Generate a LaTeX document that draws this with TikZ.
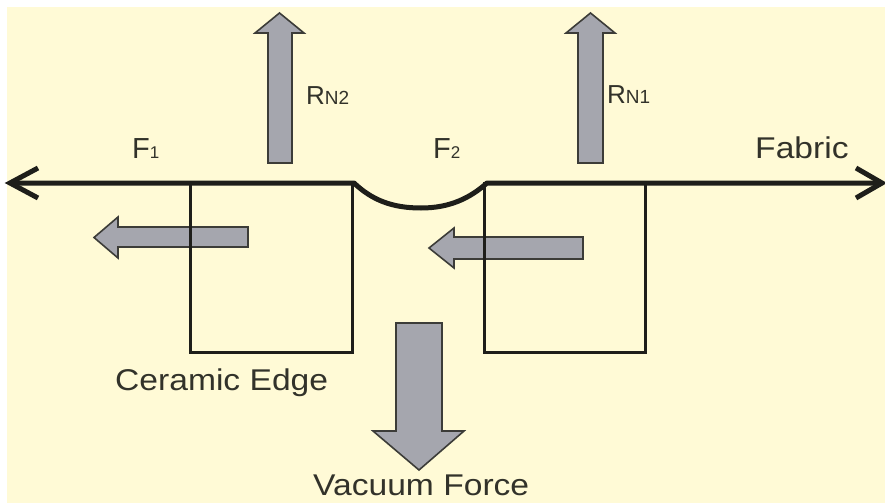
\documentclass[tikz,border=0pt]{standalone}
\usepackage{fontspec}
\setmainfont{Liberation Sans}
\definecolor{cream}{RGB}{255,250,214}
\definecolor{arrfill}{RGB}{165,166,174}
\definecolor{arrline}{RGB}{60,60,56}
\definecolor{ink}{RGB}{30,30,26}
\definecolor{txt}{RGB}{50,50,42}
\tikzset{
  blockarrow/.style={fill=arrfill, draw=arrline, line width=1.6pt, line join=miter},
  edgebox/.style={draw=ink, line width=3pt},
  fabricline/.style={draw=ink, line width=5pt},
  lbl/.style={anchor=base west, inner sep=0pt, text=txt, font=\fontsize{30}{36}\selectfont, xscale=1.12},
  flbl/.style={anchor=base west, inner sep=0pt, text=txt, font=\fontsize{29}{34}\selectfont},
  rlbl/.style={anchor=base west, inner sep=0pt, text=txt, font=\fontsize{26}{30}\selectfont}
}
\newcommand{\smalldig}[1]{{\fontsize{17}{20}\selectfont #1}}
\begin{document}
\begin{tikzpicture}[x=1pt,y=-1pt]
\clip (0,0) rectangle (885,503);
\useasboundingbox (0,0) rectangle (885,503);
\fill[white] (0,0) rectangle (885,503);
\fill[cream] (7,7) rectangle (885,503);

% block arrows (drawn below the boxes)
\draw[blockarrow] (268,163) -- (268,33) -- (255,33) -- (279.5,13) -- (304,33) -- (292,33) -- (292,163) -- cycle;
\draw[blockarrow] (578,163) -- (578,33) -- (566,33) -- (590.5,13) -- (615,33) -- (603,33) -- (603,163) -- cycle;
\draw[blockarrow] (248,227) -- (118,227) -- (118,217) -- (94,237.5) -- (118,258) -- (118,247) -- (248,247) -- cycle;
\draw[blockarrow] (583,237) -- (454,237) -- (454,228) -- (429,248) -- (454,268) -- (454,259) -- (583,259) -- cycle;
\draw[blockarrow] (396,323) -- (442,323) -- (442,431) -- (464,431) -- (419,470) -- (373,431) -- (396,431) -- cycle;

% ceramic edges
\coordinate (lbtl) at (190,183);
\coordinate (lbbr) at (352,352);
\coordinate (rbtl) at (484,183);
\coordinate (rbbr) at (645,352);
\draw[edgebox] (lbtl) rectangle (lbbr);
\draw[edgebox] (rbtl) rectangle (rbbr);

% fabric
\coordinate (ltip) at (10,183);
\coordinate (rtip) at (882,183);
\coordinate (cl) at (354,183);
\coordinate (cr) at (487,183);
\coordinate (cb) at (421,208);
\draw[fabricline, line join=round] (ltip) -- (cl) .. controls (372,200) and (392,208) .. (cb) .. controls (450,208) and (470,198) .. (cr) -- (rtip);
\draw[fabricline, line join=miter] (38,168) -- (ltip) -- (38,198);
\draw[fabricline, line join=miter] (856,168) -- (rtip) -- (856,198);

% labels
\node[flbl] (f1) at (132,158) {F\smalldig{1}};
\node[flbl] (f2) at (433,158) {F\smalldig{2}};
\node[rlbl] (rn2) at (306,104) {R{\fontsize{19}{22}\selectfont N2}};
\node[rlbl] (rn1) at (607,103) {R{\fontsize{19}{22}\selectfont N1}};
\node[lbl] (fab) at (755,158) {Fabric};
\node[lbl] (cer) at (115,390) {Ceramic Edge};
\node[lbl] (vac) at (313,495) {Vacuum Force};
\end{tikzpicture}
\end{document}
